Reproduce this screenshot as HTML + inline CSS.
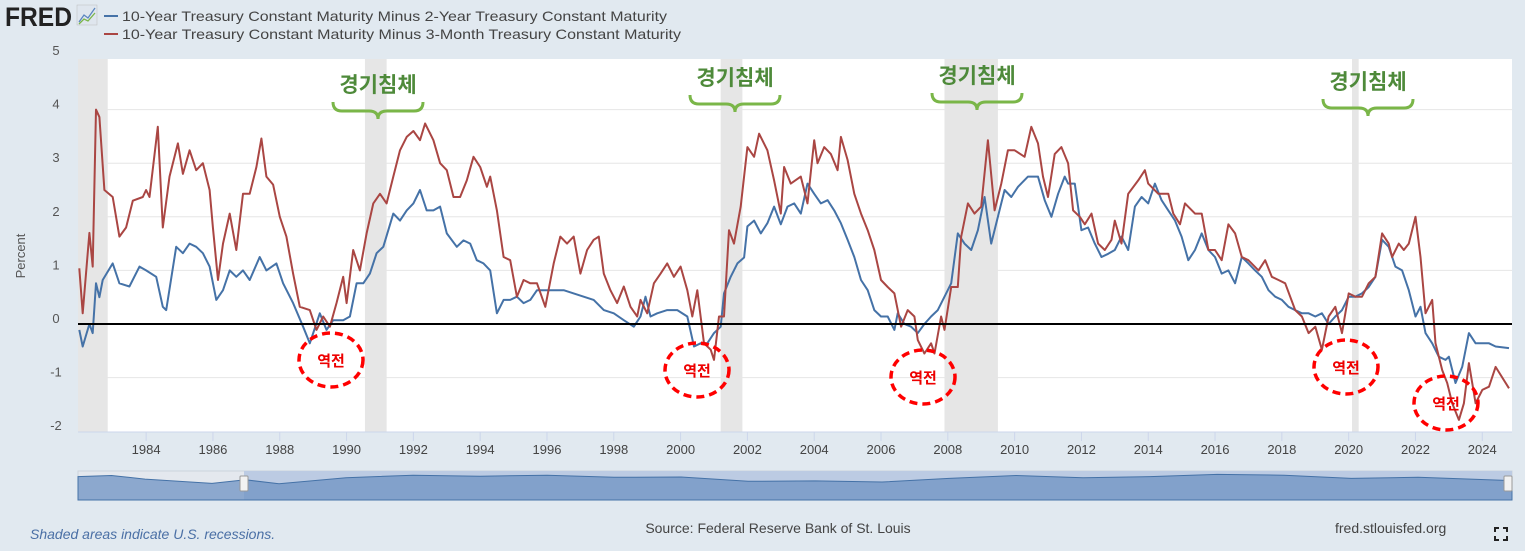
<!DOCTYPE html>
<html><head><meta charset="utf-8"><style>
body{margin:0;width:1525px;height:551px;background:#e1e9f0;overflow:hidden;font-family:"Liberation Sans","Noto Sans CJK KR",sans-serif;}
svg{position:absolute;left:0;top:0}
</style></head><body>
<svg width="1525" height="551" xmlns="http://www.w3.org/2000/svg" id="chart">
<g>
<text x="5" y="26" font-size="27" font-weight="bold" fill="#222" font-family="Liberation Sans, sans-serif" textLength="67" lengthAdjust="spacingAndGlyphs">FRED</text>
<rect x="77" y="5" width="20" height="20" fill="#dfe6ee" stroke="#bbb" stroke-width="0.5"/>
<polyline points="79,22 84,15 88,18 95,8" fill="none" stroke="#5a86c0" stroke-width="1.3"/>
<polyline points="79,24 84,19 88,21 95,13" fill="none" stroke="#7ab648" stroke-width="1.3"/>
</g>
<g>
<g><line x1="104" y1="16" x2="118" y2="16" stroke="#4572a7" stroke-width="2"/><text x="122" y="21" font-size="14" fill="#444" textLength="545" lengthAdjust="spacingAndGlyphs">10-Year Treasury Constant Maturity Minus 2-Year Treasury Constant Maturity</text></g>
<g><line x1="104" y1="34" x2="118" y2="34" stroke="#aa4643" stroke-width="2"/><text x="122" y="39" font-size="14" fill="#444" textLength="559" lengthAdjust="spacingAndGlyphs">10-Year Treasury Constant Maturity Minus 3-Month Treasury Constant Maturity</text></g>
</g>
<rect x="78" y="59" width="1434" height="373" fill="#fff"/>
<g id="rec"></g><g id="grid"></g><g id="ylab"></g><g id="xlab"></g>
<text transform="translate(25,256) rotate(-90)" font-size="13" fill="#555" text-anchor="middle">Percent</text>
<g id="lines"></g>
<g id="nav"></g>
<g id="ann"></g>
<text x="30" y="539" font-size="14" font-style="italic" fill="#4a6fa5">Shaded areas indicate U.S. recessions.</text>
<text x="778" y="533" font-size="14" fill="#444" text-anchor="middle">Source: Federal Reserve Bank of St. Louis</text>
<text x="1335" y="533" font-size="14" fill="#444">fred.stlouisfed.org</text>
<g stroke="#222" stroke-width="2" fill="none">
<polyline points="1495,532 1495,528 1499,528"/><polyline points="1503,528 1507,528 1507,532"/><polyline points="1495,536 1495,540 1499,540"/><polyline points="1503,540 1507,540 1507,536"/></g>
</svg>
<script>
const yTicks=[5,4,3,2,1,0,-1,-2];
const xTickYears=[1984,1986,1988,1990,1992,1994,1996,1998,2000,2002,2004,2006,2008,2010,2012,2014,2016,2018,2020,2022,2024];
const recStarts=[1981.5,1990.55,2001.2,2007.9,2020.1];
const recEnds=[1982.85,1991.2,2001.85,2009.5,2020.3];
const t10y2yDates=[1982.0,1982.1,1982.3,1982.4,1982.5,1982.6,1982.7,1983.0,1983.2,1983.5,1983.8,1984.0,1984.3,1984.5,1984.6,1984.9,1985.1,1985.3,1985.5,1985.7,1985.9,1986.1,1986.3,1986.5,1986.7,1986.9,1987.1,1987.4,1987.6,1987.9,1988.1,1988.4,1988.7,1988.9,1989.2,1989.4,1989.6,1989.9,1990.1,1990.3,1990.5,1990.7,1990.9,1991.1,1991.4,1991.6,1991.8,1992.0,1992.2,1992.4,1992.6,1992.8,1993.0,1993.3,1993.5,1993.7,1993.9,1994.1,1994.3,1994.5,1994.7,1994.9,1995.1,1995.3,1995.5,1995.7,1996.2,1996.5,1996.8,1997.1,1997.4,1997.7,1998.0,1998.3,1998.6,1998.8,1998.95,1999.1,1999.3,1999.6,1999.9,2000.2,2000.4,2000.6,2000.8,2001.0,2001.2,2001.3,2001.5,2001.7,2001.9,2002.0,2002.2,2002.4,2002.6,2002.8,2003.0,2003.2,2003.4,2003.6,2003.8,2004.0,2004.2,2004.4,2004.6,2004.8,2005.0,2005.2,2005.4,2005.6,2005.8,2006.0,2006.2,2006.4,2006.5,2006.7,2006.9,2007.1,2007.3,2007.5,2007.7,2007.9,2008.1,2008.3,2008.5,2008.7,2008.9,2009.1,2009.3,2009.5,2009.7,2009.9,2010.1,2010.4,2010.7,2010.9,2011.1,2011.3,2011.5,2011.6,2011.8,2012.0,2012.2,2012.4,2012.6,2012.8,2013.0,2013.2,2013.4,2013.6,2013.8,2014.0,2014.2,2014.4,2014.6,2014.8,2015.0,2015.2,2015.4,2015.6,2015.8,2016.0,2016.2,2016.4,2016.6,2016.8,2017.0,2017.2,2017.4,2017.6,2017.8,2018.0,2018.2,2018.4,2018.6,2018.8,2019.0,2019.2,2019.4,2019.6,2019.8,2020.0,2020.2,2020.4,2020.6,2020.8,2021.0,2021.2,2021.4,2021.6,2021.8,2022.0,2022.15,2022.3,2022.5,2022.7,2022.9,2023.0,2023.2,2023.4,2023.6,2023.8,2024.0,2024.2,2024.4,2024.8];
const t10y2yValues=[-0.11,-0.42,0.0,-0.17,0.76,0.5,0.82,1.13,0.76,0.7,1.07,1.0,0.88,0.32,0.26,1.44,1.32,1.5,1.44,1.32,1.07,0.45,0.63,1.0,0.88,1.0,0.82,1.25,1.0,1.13,0.76,0.39,-0.05,-0.36,0.2,-0.11,0.07,0.07,0.14,0.76,0.76,0.94,1.32,1.44,2.06,1.93,2.12,2.25,2.5,2.12,2.12,2.19,1.69,1.44,1.56,1.5,1.19,1.13,1.0,0.2,0.45,0.45,0.51,0.39,0.45,0.63,0.63,0.63,0.57,0.51,0.45,0.26,0.2,0.07,-0.05,0.14,0.51,0.14,0.2,0.26,0.26,0.14,-0.42,-0.36,-0.36,-0.17,-0.05,0.57,0.88,1.13,1.24,1.82,1.93,1.69,1.88,2.19,1.86,2.19,2.25,2.06,2.62,2.43,2.25,2.31,2.12,1.88,1.57,1.25,0.82,0.63,0.26,0.14,0.14,-0.11,0.2,0.0,-0.05,-0.17,0.0,0.14,0.26,0.51,0.76,1.69,1.5,1.38,1.75,2.37,1.5,2.0,2.5,2.37,2.56,2.75,2.75,2.31,2.0,2.43,2.75,2.62,2.62,1.75,1.8,1.5,1.25,1.31,1.38,1.63,1.38,2.19,2.37,2.25,2.62,2.31,2.12,1.93,1.63,1.19,1.38,1.69,1.38,1.25,0.94,1.0,0.76,1.25,1.13,1.0,0.88,0.63,0.51,0.45,0.32,0.26,0.2,0.2,0.14,0.2,0.0,0.14,0.26,0.51,0.51,0.57,0.69,0.88,1.57,1.44,1.07,1.0,0.63,0.14,0.32,-0.17,-0.36,-0.61,-0.67,-0.61,-1.1,-0.8,-0.17,-0.36,-0.36,-0.36,-0.42,-0.45];
const t10y3mDates=[1982.0,1982.1,1982.3,1982.4,1982.5,1982.6,1982.75,1983.0,1983.2,1983.4,1983.6,1983.9,1984.0,1984.1,1984.35,1984.5,1984.7,1984.95,1985.1,1985.3,1985.5,1985.7,1985.9,1986.0,1986.15,1986.3,1986.5,1986.7,1986.9,1987.1,1987.3,1987.45,1987.6,1987.8,1988.0,1988.2,1988.4,1988.6,1988.9,1989.1,1989.3,1989.5,1989.7,1989.9,1990.0,1990.2,1990.4,1990.6,1990.8,1991.0,1991.2,1991.4,1991.6,1991.8,1992.0,1992.2,1992.35,1992.6,1992.8,1993.0,1993.2,1993.4,1993.6,1993.8,1994.0,1994.2,1994.3,1994.5,1994.7,1994.9,1995.1,1995.3,1995.5,1995.7,1995.95,1996.2,1996.4,1996.6,1996.8,1997.0,1997.2,1997.4,1997.55,1997.7,1997.9,1998.1,1998.3,1998.5,1998.7,1998.8,1999.0,1999.2,1999.4,1999.6,1999.8,2000.0,2000.2,2000.35,2000.5,2000.7,2000.9,2001.0,2001.15,2001.3,2001.45,2001.6,2001.8,2002.0,2002.2,2002.35,2002.6,2002.8,2003.0,2003.1,2003.3,2003.6,2003.8,2004.0,2004.1,2004.3,2004.5,2004.7,2004.8,2005.0,2005.2,2005.4,2005.6,2005.8,2006.0,2006.2,2006.4,2006.6,2006.8,2007.0,2007.1,2007.3,2007.5,2007.6,2007.8,2007.9,2008.1,2008.3,2008.4,2008.6,2008.8,2009.0,2009.2,2009.4,2009.6,2009.8,2010.0,2010.3,2010.5,2010.7,2010.85,2011.0,2011.2,2011.4,2011.6,2011.75,2011.95,2012.1,2012.3,2012.5,2012.7,2012.9,2013.0,2013.2,2013.4,2013.7,2013.9,2014.0,2014.3,2014.6,2014.75,2014.95,2015.1,2015.4,2015.6,2015.8,2016.0,2016.2,2016.4,2016.6,2016.8,2017.0,2017.3,2017.5,2017.7,2017.9,2018.1,2018.4,2018.6,2018.8,2019.0,2019.2,2019.4,2019.6,2019.8,2020.0,2020.2,2020.4,2020.6,2020.8,2021.0,2021.2,2021.3,2021.5,2021.65,2021.8,2022.0,2022.15,2022.3,2022.5,2022.6,2022.8,2022.95,2023.1,2023.3,2023.45,2023.6,2023.8,2024.0,2024.2,2024.4,2024.8];
const t10y3mValues=[1.04,0.2,1.7,1.07,4.0,3.86,2.5,2.37,1.63,1.8,2.3,2.37,2.5,2.37,3.68,1.8,2.75,3.37,2.8,3.24,2.87,3.0,2.5,1.8,0.82,1.5,2.06,1.38,2.43,2.43,2.93,3.46,2.75,2.6,2.0,1.63,0.94,0.32,0.26,-0.11,0.14,-0.05,0.39,0.88,0.39,1.38,1.0,1.69,2.25,2.43,2.25,2.75,3.24,3.49,3.6,3.43,3.74,3.43,3.0,2.87,2.37,2.37,2.68,3.12,2.93,2.56,2.75,2.12,1.25,1.19,0.51,0.82,0.76,0.76,0.32,1.13,1.63,1.5,1.63,0.94,1.38,1.57,1.63,0.94,0.63,0.39,0.7,0.32,0.14,0.45,0.2,0.76,0.94,1.13,0.88,1.07,0.63,0.14,0.63,-0.36,-0.48,-0.67,0.14,0.14,1.75,1.5,2.19,3.3,3.12,3.55,3.24,2.68,2.06,2.93,2.62,2.75,2.25,3.43,3.0,3.3,3.17,2.87,3.49,3.06,2.43,2.06,1.75,1.38,0.82,0.69,0.57,-0.05,0.26,0.14,-0.3,-0.55,-0.36,-0.55,0.14,-0.11,0.69,0.69,1.63,2.25,2.06,2.19,3.43,2.12,2.62,3.24,3.24,3.12,3.68,3.37,2.75,2.37,3.17,3.3,3.0,2.12,2.0,1.86,2.06,1.5,1.38,1.57,1.93,1.5,2.43,2.68,2.87,2.62,2.43,2.43,2.06,1.86,2.25,2.06,2.06,1.38,1.38,1.19,1.86,1.69,1.25,1.19,1.0,1.19,0.88,0.82,0.76,0.26,0.14,-0.17,-0.05,-0.48,0.14,0.32,-0.17,0.57,0.51,0.51,0.76,0.88,1.69,1.5,1.25,1.5,1.38,1.5,2.0,1.25,0.2,0.45,-0.36,-0.86,-1.1,-1.48,-1.79,-1.48,-0.73,-1.48,-1.23,-1.17,-0.8,-1.2];
const navYears=[1982,1983,1984,1985,1986,1987,1988,1990,1992,1994,1996,1998,2000,2002,2004,2006,2008,2010,2012,2014,2016,2018,2020,2022,2024.8];
const navValues=[6.5,6.8,5.8,5.2,4.6,5.6,4.5,6.2,6.9,6.6,6.9,6.3,6.4,5.2,5.3,5.0,6.0,6.8,6.2,6.5,7.1,6.9,6.0,6.3,5.4];

const NS='http://www.w3.org/2000/svg';
const X0=78,X1=1512,Y0=1981.96,Y1=2024.89;
const xs=t=>X0+(t-Y0)*(X1-X0)/(Y1-Y0);
const ys=v=>324-v*53.6;
function mk(tag,attrs,parent){const e=document.createElementNS(NS,tag);for(const k in attrs)e.setAttribute(k,attrs[k]);document.getElementById(parent).appendChild(e);return e;}
recStarts.forEach((s,i)=>{const e=mk('rect',{x:Math.max(X0,xs(s)),y:59,width:xs(recEnds[i])-Math.max(X0,xs(s)),height:373,fill:'#e6e6e6'},'rec');

});
yTicks.forEach(v=>{if(v!==0&&v!==5&&v!==-2){const g=mk('line',{x1:X0,x2:X1,y1:ys(v),y2:ys(v),stroke:'#e6e6e6','stroke-width':1},'grid');

}
const t=mk('text',{x:56,y:ys(v)-1,'font-size':13,fill:'#555','text-anchor':'middle'},'ylab');t.textContent=v;

});
mk('line',{x1:X0,x2:X1,y1:432,y2:432,stroke:'#ccd6eb','stroke-width':1},'xlab');
xTickYears.forEach(y=>{const tk=mk('line',{x1:xs(y),x2:xs(y),y1:432,y2:441,stroke:'#ccd6eb'},'xlab');


const t=mk('text',{x:xs(y),y:454,'font-size':13,fill:'#444','text-anchor':'middle'},'xlab');t.textContent=y;

});
function line(d,v,c,name){const p=d.map((t,i)=>xs(t).toFixed(1)+','+ys(v[i]).toFixed(1)).join(' ');
const e=mk('polyline',{points:p,fill:'none',stroke:c,'stroke-width':2,'stroke-linejoin':'round'},'lines');

}
line(t10y2yDates,t10y2yValues,'#4572a7','series-10y-minus-2y');
line(t10y3mDates,t10y3mValues,'#aa4643','series-10y-minus-3m');
const zl=mk('line',{x1:X0,x2:X1,y1:ys(0),y2:ys(0),stroke:'#000','stroke-width':2},'lines');


// navigator
const nb=mk('rect',{x:X0,y:471,width:X1-X0,height:29,fill:'#e4e8ee',stroke:'#ccd3dc'},'nav');


const sel=mk('rect',{x:244,y:471,width:X1-244,height:29,fill:'#bccbe3'},'nav');


const nx=t=>X0+(t-1982)*(X1-X0)/(2024.8-1982);const ny=v=>500-v*3.6;
let ap='M'+X0+',500 '+navYears.map((t,i)=>'L'+nx(t).toFixed(1)+','+ny(navValues[i]).toFixed(1)).join(' ')+' L'+X1+',500 Z';
const na=mk('path',{d:ap,fill:'#6f93c3','fill-opacity':0.75,stroke:'#4572a7','stroke-width':1},'nav');


[244,1508].forEach(hx=>{const h=mk('rect',{x:hx-4,y:476,width:8,height:15,fill:'#f2f2f2',stroke:'#999',rx:1},'nav');

});
// annotations
const recLabelX=[378,735,977,1368],recLabelY=[92,85,83,89];
recLabelX.forEach((cx,i)=>{const t=mk('text',{x:cx,y:recLabelY[i],'font-size':21,'font-weight':'bold',fill:'#4e8a3a','text-anchor':'middle','font-family':'"Noto Sans CJK KR",sans-serif'},'ann');t.textContent='경기침체';


const b=recLabelY[i]+10;
const br=mk('path',{d:`M${cx-45},${b} q0,9 9,9 h27 q9,0 9,8 q0,-8 9,-8 h27 q9,0 9,-9`,fill:'none',stroke:'#7ab648','stroke-width':3},'ann');

});
const invX=[331,697,923,1346,1446],invY=[360,370,377,367,403];
invX.forEach((cx,i)=>{const e=mk('ellipse',{cx:cx,cy:invY[i],rx:32,ry:27,fill:'none',stroke:'#f00','stroke-width':3.5,'stroke-dasharray':'8,5'},'ann');


const t=mk('text',{x:cx,y:invY[i]+6,'font-size':15,'font-weight':'bold',fill:'#e00','text-anchor':'middle','font-family':'"Noto Sans CJK KR",sans-serif'},'ann');t.textContent='역전';

});
</script>
</body></html>
